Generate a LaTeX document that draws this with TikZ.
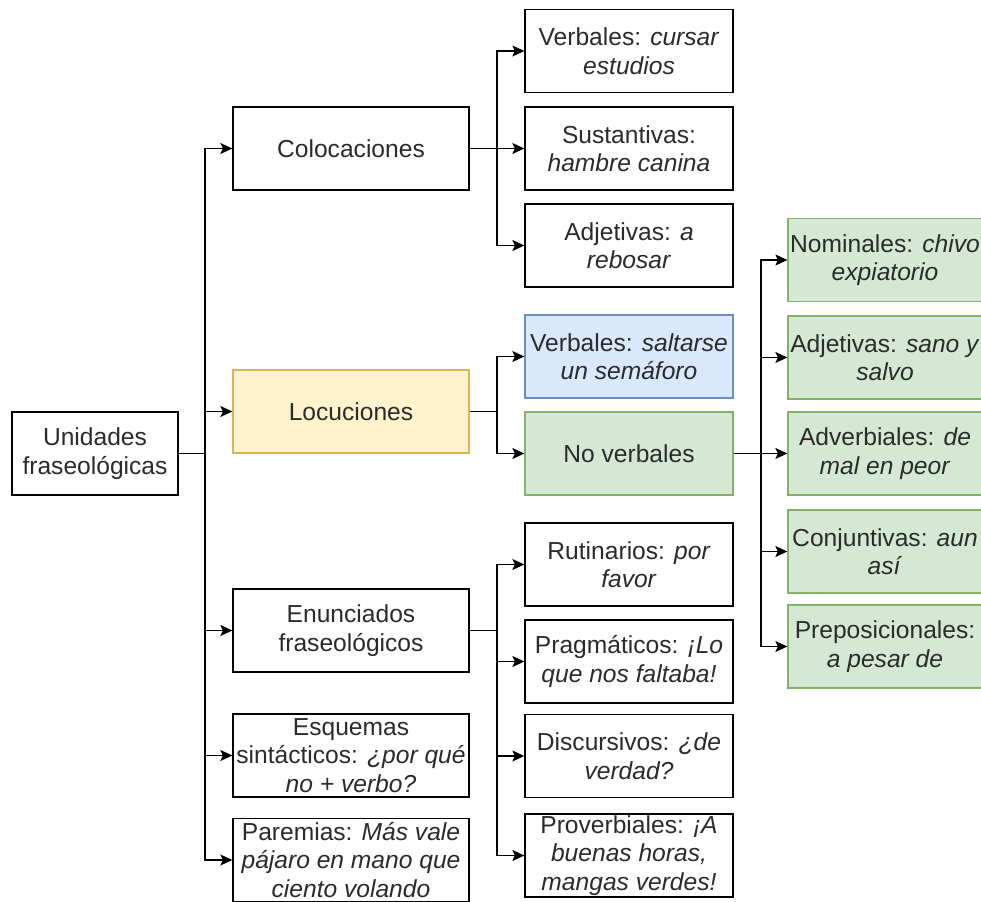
\documentclass[tikz,border=0pt]{standalone}
\usepackage{fontspec}
\setmainfont{Liberation Sans}
\usetikzlibrary{arrows.meta}
\definecolor{bluefill}{HTML}{DAE8FC}
\definecolor{blueline}{HTML}{6C8EBF}
\definecolor{greenfill}{HTML}{D5E8D4}
\definecolor{greenline}{HTML}{82B366}
\definecolor{yellowfill}{HTML}{FFF2CC}
\definecolor{yellowline}{HTML}{D6B656}
\definecolor{inktext}{HTML}{2B2B2B}
\tikzset{tipdrawio/.tip={Stealth[length=12pt 0, width=11pt 0, inset=2.5pt 0]}}
\begin{document}
\begin{tikzpicture}[x=1pt,y=-1pt,
  box/.style={draw=black, line width=1.3pt, fill=white, minimum height=83pt,
    inner sep=0pt, align=center, text=inktext,
    font=\fontsize{24.6}{28.5}\selectfont},
  rootbox/.style={box, minimum width=166pt},
  mainbox/.style={box, minimum width=236pt},
  subbox/.style={box, minimum width=208pt},
  leafbox/.style={box, minimum width=194pt},
  bluebox/.style={fill=bluefill, draw=blueline},
  greenbox/.style={fill=greenfill, draw=greenline},
  yellowbox/.style={fill=yellowfill, draw=yellowline},
  link/.style={draw=black, line width=1.3pt},
  arr/.style={link, arrows={-tipdrawio}}]
\useasboundingbox (0,0) rectangle (981,901);
\clip (0,0) rectangle (981,901);

% root
\node[rootbox] (uni) at (95,453.5) {Unidades\\fraseológicas};

% first level
\node[mainbox] (col) at (351,148.5) {Colocaciones};
\node[mainbox, yellowbox] (loc) at (351,411.5) {Locuciones};
\node[mainbox] (enu) at (351,630.5) {Enunciados\\fraseológicos};
\node[mainbox] (esq) at (351,755.5) {Esquemas\\sintácticos: \textit{¿por qué}\\\textit{no + verbo?}};
\node[mainbox] (par) at (351,860) {Paremias: \textit{Más vale}\\\textit{pájaro en mano que}\\\textit{ciento volando}};

% colocaciones
\node[subbox] (cverb) at (629,51) {Verbales: \textit{cursar}\\\textit{estudios}};
\node[subbox] (csust) at (629,148.5) {Sustantivas:\\\textit{hambre canina}};
\node[subbox] (cadj) at (629,245.5) {Adjetivas: \textit{a}\\\textit{rebosar}};

% locuciones
\node[subbox, bluebox] (lverb) at (629,356.5) {Verbales: \textit{saltarse}\\\textit{un semáforo}};
\node[subbox, greenbox] (lnov) at (629,453.5) {No verbales};

% locuciones no verbales
\node[leafbox, greenbox] (nom) at (885,260) {Nominales: \textit{chivo}\\\textit{expiatorio}};
\node[leafbox, greenbox] (nadj) at (885,357.5) {Adjetivas: \textit{sano y}\\\textit{salvo}};
\node[leafbox, greenbox] (nadv) at (885,453.5) {Adverbiales: \textit{de}\\\textit{mal en peor}};
\node[leafbox, greenbox] (ncon) at (885,551.5) {Conjuntivas: \textit{aun}\\\textit{así}};
\node[leafbox, greenbox] (nprep) at (885,646.5) {Preposicionales:\\\textit{a pesar de}};

% enunciados
\node[subbox] (erut) at (629,564.5) {Rutinarios: \textit{por}\\\textit{favor}};
\node[subbox] (eprag) at (629,661.5) {Pragmáticos: \textit{¡Lo}\\\textit{que nos faltaba!}};
\node[subbox] (edisc) at (629,756) {Discursivos: \textit{¿de}\\\textit{verdad?}};
\node[subbox] (eprov) at (629,855.5) {Proverbiales: \textit{¡A}\\\textit{buenas horas,}\\\textit{mangas verdes!}};

% branch points
\coordinate (jroot) at (205,453.5);
\coordinate (jcol) at (497,148.5);
\coordinate (jloc) at (497,411.5);
\coordinate (jenu) at (497,630.5);
\coordinate (jnov) at (761,453.5);

% connectors
\draw[link] (uni.east) -- (jroot);
\foreach \t in {col,loc,enu,esq,par} \draw[arr] (jroot) |- (\t.west);

\draw[link] (col.east) -- (jcol);
\foreach \t in {cverb,csust,cadj} \draw[arr] (jcol) |- (\t.west);

\draw[link] (loc.east) -- (jloc);
\foreach \t in {lverb,lnov} \draw[arr] (jloc) |- (\t.west);

\draw[link] (lnov.east) -- (jnov);
\foreach \t in {nom,nadj,nadv,ncon,nprep} \draw[arr] (jnov) |- (\t.west);

\draw[link] (enu.east) -- (jenu);
\foreach \t in {erut,eprag,edisc,eprov} \draw[arr] (jenu) |- (\t.west);
\end{tikzpicture}
\end{document}
